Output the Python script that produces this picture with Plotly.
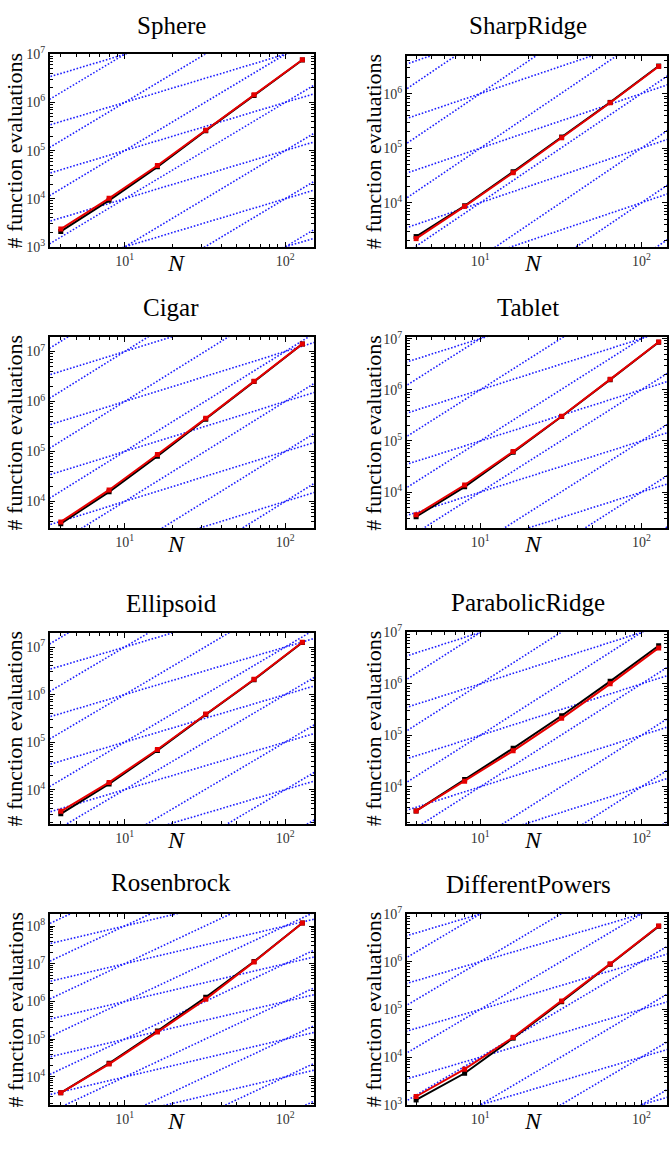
import plotly.graph_objects as go

W, H = 669, 1151

# ---------------- data ----------------
N = [4, 8, 16, 32, 64, 128]

titles = ["Sphere", "SharpRidge", "Cigar", "Tablet",
          "Ellipsoid", "ParabolicRidge", "Rosenbrock", "DifferentPowers"]

sphere_black = [2.1e3, 9.3e3, 4.6e4, 2.6e5, 1.4e6, 7.6e6]
sphere_red = [2.35e3, 1.02e4, 4.9e4, 2.65e5, 1.45e6, 7.7e6]

sharpridge_black = [2.4e3, 8.8e3, 3.7e4, 1.6e5, 6.9e5, 3.2e6]
sharpridge_red = [2.2e3, 8.6e3, 3.55e4, 1.55e5, 6.8e5, 3.15e6]

cigar_black = [3.6e3, 1.56e4, 8.0e4, 4.4e5, 2.5e6, 1.41e7]
cigar_red = [3.9e3, 1.7e4, 8.7e4, 4.6e5, 2.55e6, 1.42e7]

tablet_black = [3.3e3, 1.27e4, 6.0e4, 3.0e5, 1.58e6, 8.5e6]
tablet_red = [3.6e3, 1.38e4, 6.2e4, 3.05e5, 1.6e6, 8.6e6]

ellipsoid_black = [3.1e3, 1.32e4, 6.7e4, 3.8e5, 2.05e6, 1.25e7]
ellipsoid_red = [3.5e3, 1.42e4, 7.0e4, 3.9e5, 2.1e6, 1.26e7]

parabolic_black = [3.4e3, 1.38e4, 5.6e4, 2.4e5, 1.12e6, 5.5e6]
parabolic_red = [3.4e3, 1.28e4, 5.0e4, 2.14e5, 1.0e6, 5.0e6]

rosenbrock_black = [3.8e3, 2.3e4, 1.65e5, 1.3e6, 1.15e7, 1.2e8]
rosenbrock_red = [3.8e3, 2.2e4, 1.55e5, 1.15e6, 1.12e7, 1.2e8]

diffpowers_black = [1.27e3, 4.6e3, 2.5e4, 1.45e5, 8.8e5, 5.5e6]
diffpowers_red = [1.5e3, 5.6e3, 2.6e4, 1.5e5, 9.0e5, 5.6e6]

black_series = [sphere_black, sharpridge_black, cigar_black, tablet_black,
                ellipsoid_black, parabolic_black, rosenbrock_black, diffpowers_black]
red_series = [sphere_red, sharpridge_red, cigar_red, tablet_red,
              ellipsoid_red, parabolic_red, rosenbrock_red, diffpowers_red]

# log10 axis ranges
y_ranges = [[3.0, 7.0], [3.19, 6.69], [3.46, 7.30], [3.29, 7.03],
            [3.27, 7.30], [3.27, 7.0], [3.26, 8.32], [3.0, 7.0]]
x_range_left = [0.534, 2.18]
x_range_right = [0.546, 2.159]

# reference lines c*N and c*N^2
ref_coeffs = [1e-3, 1e-2, 1e-1, 1e0, 1e1, 1e2, 1e3, 1e4, 1e5, 1e6, 1e7, 1e8]
ref_powers = [1, 2]
ref_x = [3.0, 160.0]

# ---------------- layout geometry (pixels) ----------------
col_x = [(50, 315), (408.3, 669)]
row_y = [[(45, 240.7), (46.7, 240.7)],
         [(331.7, 526.7), (332.3, 526.7)],
         [(632.7, 827.3), (632.3, 827.3)],
         [(918.3, 1112.3), (918.3, 1112.3)]]
title_y = [[16, 16], [302, 302], [603, 602], [886, 888]]
title_x = [172, 530]
ylabel_x = [15, 375]
xlabel_x = [177, 535]

fig = go.Figure()
layout = dict(width=W, height=H, margin=dict(l=0, r=0, t=0, b=0),
              paper_bgcolor="white", plot_bgcolor="white", showlegend=False,
              annotations=[])

serif = "Liberation Serif, Times New Roman, serif"

for i in range(8):
    r, c = divmod(i, 2)
    ax = "" if i == 0 else str(i + 1)
    xa, ya = "x" + ax, "y" + ax
    x0, x1 = col_x[c]
    ytop, ybot = row_y[r][c]
    yr = y_ranges[i]
    xr = x_range_left if c == 0 else x_range_right

    # reference lines
    for p in ref_powers:
        for k in ref_coeffs:
            fig.add_trace(go.Scatter(
                x=ref_x, y=[k * xv ** p for xv in ref_x], mode="lines",
                line=dict(color="rgb(30,30,255)", width=1.6, dash="1.6px,1.8px"),
                xaxis=xa, yaxis=ya, hoverinfo="skip"))
    fig.add_trace(go.Scatter(
        x=N, y=black_series[i], mode="lines+markers",
        line=dict(color="black", width=2),
        marker=dict(symbol="square", size=5, color="black"),
        xaxis=xa, yaxis=ya))
    fig.add_trace(go.Scatter(
        x=N, y=red_series[i], mode="lines+markers",
        line=dict(color="rgb(230,0,0)", width=2),
        marker=dict(symbol="square", size=5, color="rgb(230,0,0)"),
        xaxis=xa, yaxis=ya))

    xmaj = [10, 100]
    xmin = [m * 10 ** e for e in range(0, 3) for m in range(2, 10)]
    ymaj_exp = list(range(int(yr[0]), int(yr[1]) + 2))
    ymaj = [10 ** e for e in ymaj_exp]
    ymin = [m * 10 ** e for e in ymaj_exp for m in range(2, 10)]

    common = dict(type="log", showgrid=False, zeroline=False,
                  showline=True, linecolor="black", linewidth=2,
                  mirror="allticks", ticks="inside", ticklen=5,
                  tickcolor="black", tickwidth=1,
                  tickfont=dict(family=serif, size=14, color="#333"))
    layout["xaxis" + ax] = dict(
        common, domain=[x0 / W, x1 / W], range=xr, anchor=ya,
        tickmode="array", tickvals=xmaj,
        ticktext=["10<sup>1</sup>", "10<sup>2</sup>"],
        minor=dict(tickmode="array", tickvals=xmin, ticks="inside",
                   ticklen=3, tickcolor="black", showgrid=False))
    layout["yaxis" + ax] = dict(
        common, domain=[1 - ybot / H, 1 - ytop / H], range=yr, anchor=xa,
        tickmode="array", tickvals=ymaj,
        ticktext=["10<sup>%d</sup>" % e for e in ymaj_exp],
        minor=dict(tickmode="array", tickvals=ymin, ticks="inside",
                   ticklen=3, tickcolor="black", showgrid=False))

    layout["annotations"].append(dict(
        text=titles[i], x=title_x[c] / W, y=1 - title_y[r][c] / H,
        xref="paper", yref="paper", showarrow=False,
        xanchor="center", yanchor="middle",
        font=dict(family=serif, size=25, color="black")))
    layout["annotations"].append(dict(
        text="# function evaluations", x=ylabel_x[c] / W,
        y=1 - (ytop + ybot) / 2 / H, xref="paper", yref="paper",
        showarrow=False, textangle=-90, xanchor="center", yanchor="middle",
        font=dict(family=serif, size=22, color="black")))
    layout["annotations"].append(dict(
        text="<i>N</i>", x=xlabel_x[c] / W, y=1 - (ybot + 16) / H,
        xref="paper", yref="paper", showarrow=False,
        xanchor="center", yanchor="middle",
        font=dict(family=serif, size=24, color="black")))

fig.update_layout(**layout)
fig.write_html("out.html")
